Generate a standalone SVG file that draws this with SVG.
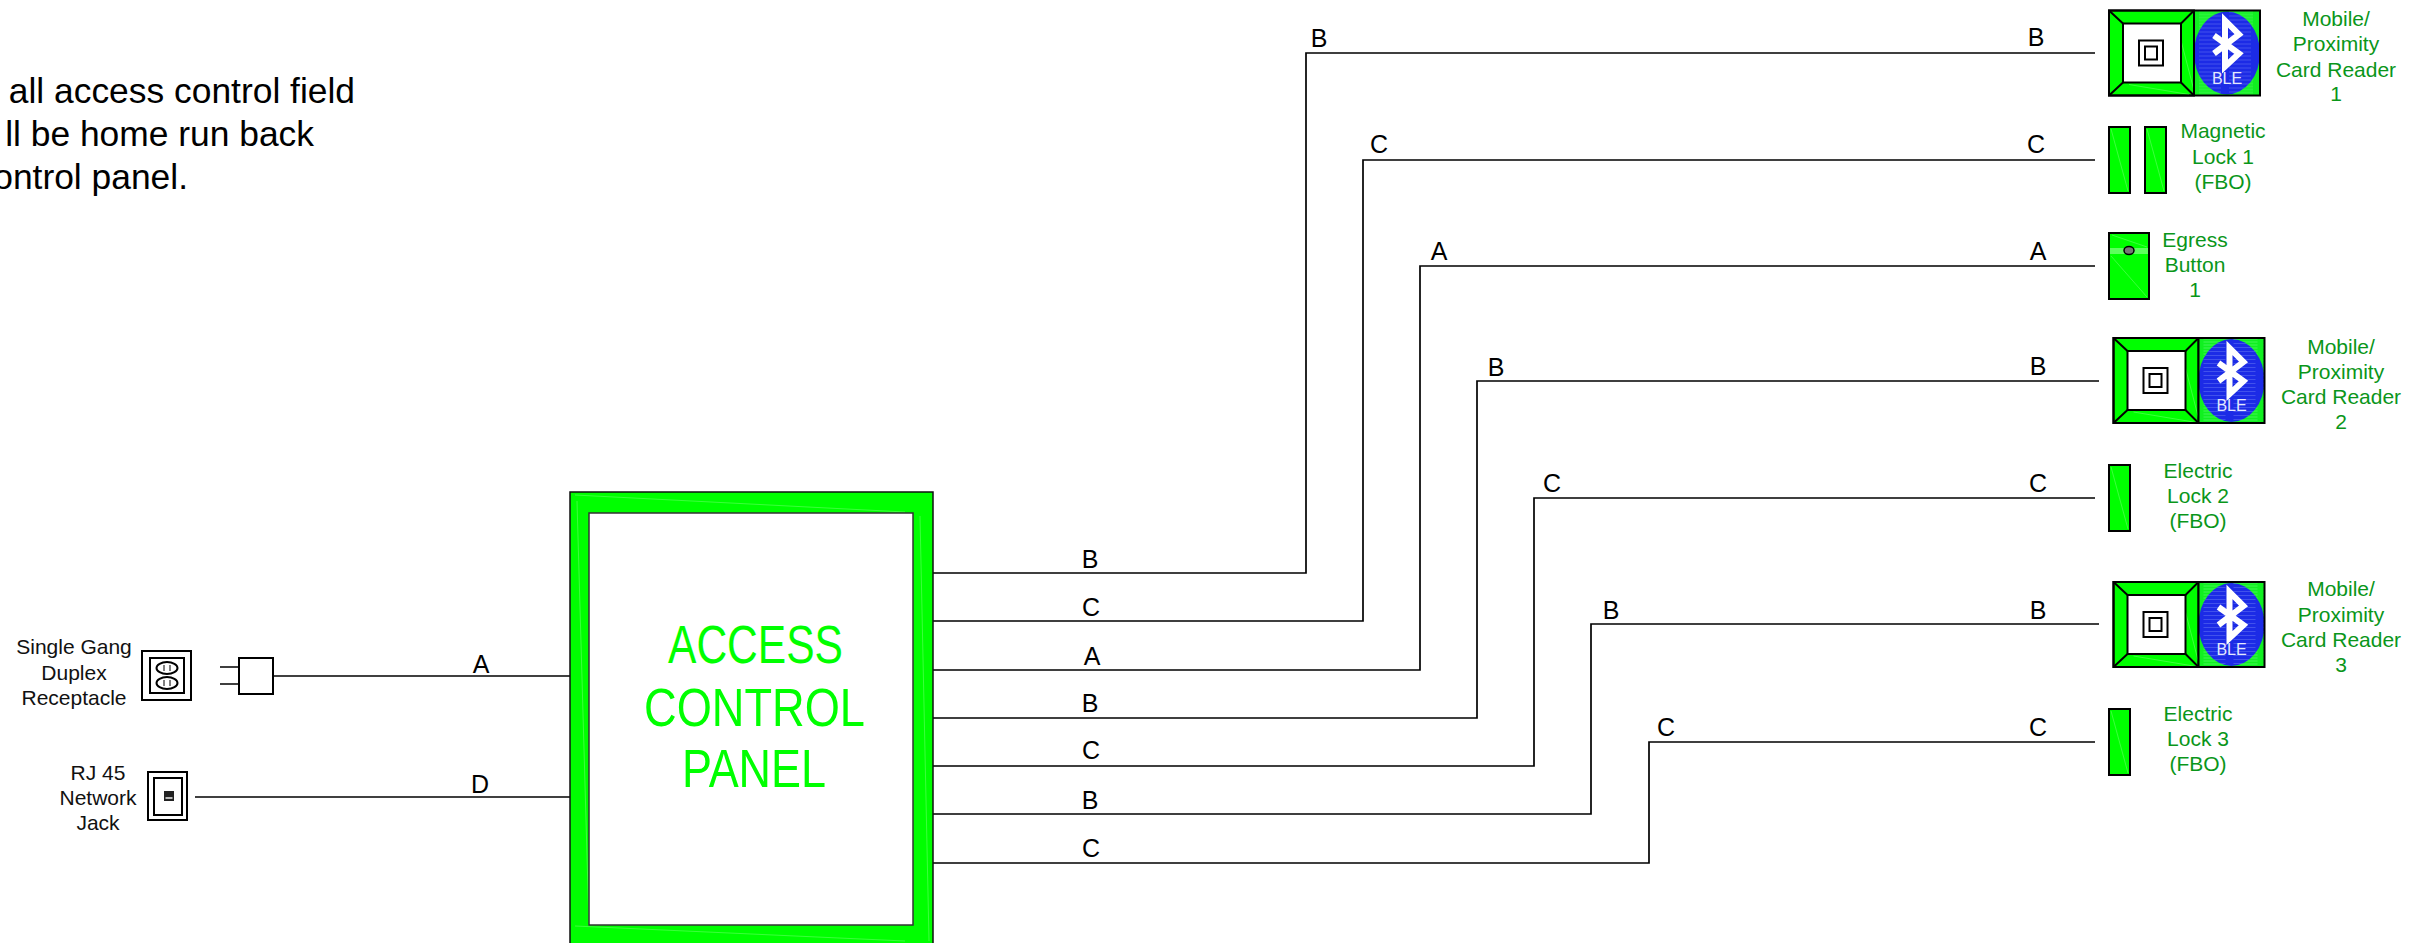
<svg xmlns="http://www.w3.org/2000/svg" width="2410" height="943" viewBox="0 0 2410 943">
<style>
text{font-family:"Liberation Sans",Arial,sans-serif}
.bg{fill:#fff}
.wire{fill:none;stroke:#000;stroke-width:1.7}
.wl{font-size:25px;fill:#000;text-anchor:middle}
.blk{font-size:21px;fill:#111;text-anchor:middle}
.grn{font-size:21px;fill:#0a961a;text-anchor:middle}
.note{font-size:35.4px;fill:#000;text-anchor:end}
.g{fill:#00ff00;stroke:#000;stroke-width:2}
.ln{fill:none;stroke:#000;stroke-width:2}
.ln2{fill:#fff;stroke:#000;stroke-width:2}
.hl{fill:none;stroke:#8dff8d;stroke-width:.6;opacity:.7}
.panel{font-size:53px;fill:#00ff00}
</style>
<defs>
<pattern id="streak" width="30" height="4" patternUnits="userSpaceOnUse"><rect width="30" height="4" fill="#1c2be6"/><path d="M0 1.5H22" stroke="#5a6cf0" stroke-width=".6"/></pattern>
<pattern id="gstreak" width="30" height="3" patternUnits="userSpaceOnUse"><rect width="30" height="3" fill="#10f020"/><path d="M0 1H24" stroke="#58f868" stroke-width=".7"/></pattern>
<g id="reader">
<rect class="g" x="0" y="0" width="85" height="85"/>
<path class="hl" d="M72 30L85 80M20 74L80 84"/>
<rect x="85" y="0" width="66" height="85" fill="url(#gstreak)"/>
<ellipse cx="118" cy="42.5" rx="33" ry="41.5" fill="url(#streak)"/>
<path d="M105 25L130 43L116 56V10L130 24L105 43" fill="none" stroke="#fff" stroke-width="6" stroke-linejoin="miter"/>
<text x="118" y="73" font-size="16" fill="#e4e9ff" text-anchor="middle">BLE</text>
<rect class="ln" x="0" y="0" width="151" height="85"/>
<path class="ln" d="M85 0V85"/>
<rect class="ln2" x="14" y="13" width="58" height="59"/>
<path class="ln" d="M0 0L14 13M85 0L72 13M0 85L14 72M85 85L72 72"/>
<rect class="ln2" x="30" y="30" width="24" height="25"/>
<rect class="ln2" x="36" y="36" width="12" height="13"/>
</g>
<g id="lockbar">
<rect class="g" x="0" y="0" width="21" height="66"/>
<path class="hl" d="M2 2L19 64"/>
</g>
</defs>
<rect class="bg" width="2410" height="943"/>
<g id="diagram" transform="translate(0 1)">

<g id="note">
<text class="note" x="355" y="102">all access control field</text>
<text class="note" x="314" y="145">ll be home run back</text>
<text class="note" x="188" y="188">ontrol panel.</text>
</g>

<g id="connectors">
<path class="wire" d="M933 572H1306V52H2095"/>
<path class="wire" d="M933 620H1363V159H2095"/>
<path class="wire" d="M933 669H1420V265H2095"/>
<path class="wire" d="M933 717H1477V380H2099"/>
<path class="wire" d="M933 765H1534V497H2095"/>
<path class="wire" d="M933 813H1591V623H2099"/>
<path class="wire" d="M933 862H1649V741H2095"/>
<path class="wire" d="M273 675H570"/>
<path class="wire" d="M195 796H570"/>
<g id="wire-labels">
<text class="wl" x="1319" y="46">B</text><text class="wl" x="2036" y="45">B</text><text class="wl" x="1090" y="567">B</text>
<text class="wl" x="1379" y="152">C</text><text class="wl" x="2036" y="152">C</text><text class="wl" x="1091" y="615">C</text>
<text class="wl" x="1439" y="259">A</text><text class="wl" x="2038" y="259">A</text><text class="wl" x="1092" y="664">A</text>
<text class="wl" x="1496" y="375">B</text><text class="wl" x="2038" y="374">B</text><text class="wl" x="1090" y="711">B</text>
<text class="wl" x="1552" y="491">C</text><text class="wl" x="2038" y="491">C</text><text class="wl" x="1091" y="758">C</text>
<text class="wl" x="1611" y="618">B</text><text class="wl" x="2038" y="618">B</text><text class="wl" x="1090" y="808">B</text>
<text class="wl" x="1666" y="735">C</text><text class="wl" x="2038" y="735">C</text><text class="wl" x="1091" y="856">C</text>
<text class="wl" x="481" y="672">A</text><text class="wl" x="480" y="792">D</text>
</g>
</g>

<g id="panel">
<rect x="570" y="491" width="363" height="460" fill="#00ff00" stroke="#111" stroke-width="1.5"/>
<path class="hl" d="M575 494L905 511M575 925L905 940M577 500L589 925M920 515L929 940"/>
<rect x="589" y="512" width="324" height="412" fill="#fff" stroke="#333" stroke-width="1.5"/>
<text class="panel" x="668" y="662" textLength="175" lengthAdjust="spacingAndGlyphs">ACCESS</text>
<text class="panel" x="644" y="725" textLength="221" lengthAdjust="spacingAndGlyphs">CONTROL</text>
<text class="panel" x="682" y="786" textLength="144" lengthAdjust="spacingAndGlyphs">PANEL</text>
</g>

<g id="receptacle">
<rect class="ln" x="142" y="650" width="49" height="49"/>
<rect class="ln" x="150" y="657" width="34" height="35"/>
<ellipse class="ln" cx="167" cy="667" rx="10.5" ry="6"/>
<ellipse class="ln" cx="167" cy="682" rx="10.5" ry="6"/>
<path stroke="#000" stroke-width="1" d="M164 664V670M170 664V670M164 679V685M170 679V685"/>
<text class="blk" x="74" y="653">Single Gang</text>
<text class="blk" x="74" y="679">Duplex</text>
<text class="blk" x="74" y="704">Receptacle</text>
</g>
<g id="plug">
<rect class="ln2" x="239" y="657" width="34" height="36"/>
<path class="wire" d="M220 666H239M220 683H239"/>
</g>
<g id="jack">
<rect class="ln" x="148" y="771" width="39" height="48"/>
<rect class="ln" x="154" y="777" width="28" height="37"/>
<rect x="164" y="790" width="10" height="10" fill="#222"/>
<rect x="165.500" y="796" width="7" height="2" fill="#bbb"/>
<text class="blk" x="98" y="779">RJ 45</text>
<text class="blk" x="98" y="804">Network</text>
<text class="blk" x="98" y="829">Jack</text>
</g>

<g id="reader-1">
<use href="#reader" x="2109" y="9.500"/>
<text class="grn" x="2336" y="25">Mobile/</text>
<text class="grn" x="2336" y="50">Proximity</text>
<text class="grn" x="2336" y="76">Card Reader</text>
<text class="grn" x="2336" y="100">1</text>
</g>
<g id="magnetic-lock-1">
<use href="#lockbar" x="2109" y="126"/>
<use href="#lockbar" x="2145" y="126"/>
<text class="grn" x="2223" y="137">Magnetic</text>
<text class="grn" x="2223" y="163">Lock 1</text>
<text class="grn" x="2223" y="188">(FBO)</text>
</g>
<g id="egress-button-1">
<rect class="g" x="2109" y="232" width="40" height="66"/>
<rect x="2110" y="247" width="38" height="6" fill="#5dff5d"/>
<path class="hl" d="M2111 255L2147 296M2112 234L2147 246"/>
<ellipse cx="2129" cy="249.500" rx="5" ry="4" fill="#777" stroke="#000" stroke-width="1.500"/>
<text class="grn" x="2195" y="246">Egress</text>
<text class="grn" x="2195" y="271">Button</text>
<text class="grn" x="2195" y="296">1</text>
</g>
<g id="reader-2">
<use href="#reader" x="2113.500" y="337"/>
<text class="grn" x="2341" y="353">Mobile/</text>
<text class="grn" x="2341" y="378">Proximity</text>
<text class="grn" x="2341" y="403">Card Reader</text>
<text class="grn" x="2341" y="428">2</text>
</g>
<g id="electric-lock-2">
<use href="#lockbar" x="2109" y="464"/>
<text class="grn" x="2198" y="477">Electric</text>
<text class="grn" x="2198" y="502">Lock 2</text>
<text class="grn" x="2198" y="527">(FBO)</text>
</g>
<g id="reader-3">
<use href="#reader" x="2113.500" y="581"/>
<text class="grn" x="2341" y="595">Mobile/</text>
<text class="grn" x="2341" y="621">Proximity</text>
<text class="grn" x="2341" y="646">Card Reader</text>
<text class="grn" x="2341" y="671">3</text>
</g>
<g id="electric-lock-3">
<use href="#lockbar" x="2109" y="708"/>
<text class="grn" x="2198" y="720">Electric</text>
<text class="grn" x="2198" y="745">Lock 3</text>
<text class="grn" x="2198" y="770">(FBO)</text>
</g>
</g>
</svg>
